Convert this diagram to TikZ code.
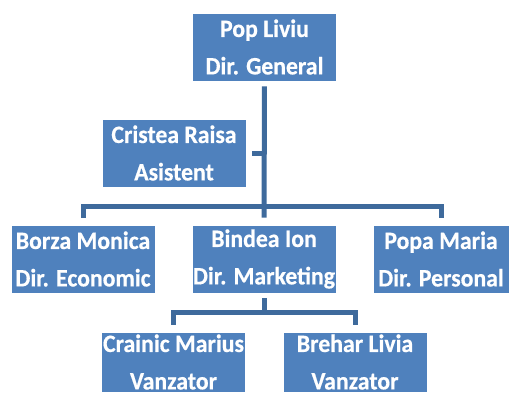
\documentclass[tikz,border=0pt]{standalone}
\usepackage{fontspec}
\setmainfont{Carlito}[BoldFeatures={FakeStretch=0.95,FakeBold=0.5}]
\definecolor{boxblue}{HTML}{4F81BD}
\definecolor{lineblue}{HTML}{3E6A9C}

\begin{document}
\begin{tikzpicture}[x=1pt,y=-1pt,
  every node/.style={rectangle,fill=boxblue,draw=white,line width=0.6pt,text=white,
    font=\fontsize{25}{37.4}\selectfont\bfseries,align=center,inner sep=0pt,
    minimum width=144pt,minimum height=68pt},
  conn/.style={draw=lineblue,line width=5pt}]
  \useasboundingbox (0,0) rectangle (513,394);
  \node (gen) at (264.5,47) {Pop Liviu\\Dir. General};
  \node (asist) at (174,153) {Cristea Raisa\\Asistent};
  \node (borza) at (83,259) {Borza Monica\\Dir. Economic};
  \node (bindea) at (264,259) {Bindea Ion\\Dir. Marketing};
  \node[minimum width=136pt] (popa) at (441,259) {Popa Maria\\Dir. Personal};
  \node[minimum height=60pt] (crainic) at (173.5,362) {Crainic Marius\\Vanzator};
  \node[minimum height=60pt] (brehar) at (355,362) {Brehar Livia\\Vanzator};
  % lines
  \draw[conn,shorten <=5pt,shorten >=7pt] (gen.south) -- (bindea.north);
  \draw[conn,shorten <=6pt] (asist.east) -- (asist.east -| gen.south);
  \draw[conn,shorten <=7pt,shorten >=7pt] (borza.north) -- ++(0,-18) -| (popa.north);
  \draw[conn,shorten <=7pt,shorten >=7pt] (crainic.north) -- ++(0,-19) -| (brehar.north);
  \draw[conn,shorten <=5pt] (bindea.south) -- ++(0,20);
\end{tikzpicture}
\end{document}
